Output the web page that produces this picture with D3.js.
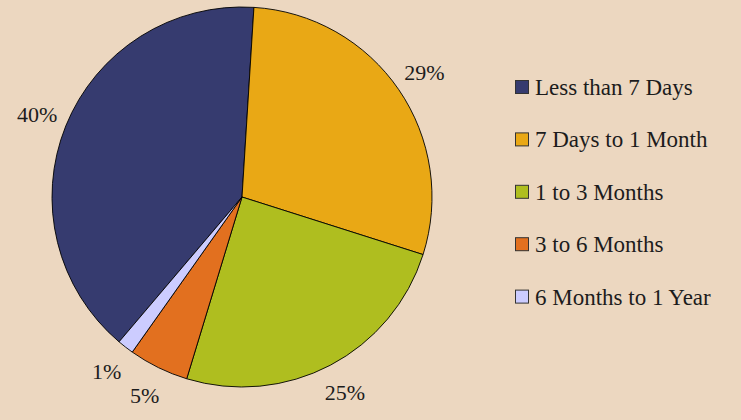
<!DOCTYPE html>
<html>
<head>
<meta charset="utf-8">
<script src="https://cdn.jsdelivr.net/npm/d3@7"></script>
<style>
	body{margin:0;background:#ecd7c0;}
	svg{display:block;}
</style>
</head>
<body>
<svg></svg>
<script>
// data
const categories=["Less than 7 Days","7 Days to 1 Month","1 to 3 Months","3 to 6 Months","6 Months to 1 Year"]
const values=[39.8,28.9,24.8,5.1,1.4]
const labels=["40%","29%","25%","5%","1%"]

const colors=["#363b6f","#e9a815","#afbe1f","#e2701f","#ccccff"]

const serif="'Liberation Serif', 'DejaVu Serif', serif"

const svg=d3.select("svg")
	.attr("width",741)
	.attr("height",420)

const radius=190
const pieGroup=svg.append("g")
	.attr("transform","translate(242,197)")

// first slice ends a little right of 12 o'clock
const total=d3.sum(values)
const endTop=3.6*Math.PI/180
const start=endTop-values[0]/total*2*Math.PI

const pieGenerator=d3.pie()
	.sort(null)
	.startAngle(start)
	.endAngle(start+2*Math.PI)

const arcData=pieGenerator(values)

const arcGenerator=d3.arc()
	.innerRadius(0)
	.outerRadius(radius)

pieGroup.selectAll("path")
	.data(arcData)
	.enter()
	.append("path")
	.attr("d",arcGenerator)
	.style("fill",(d,i)=>colors[i])
	.style("stroke","#000")
	.style("stroke-width",0.9)
	.style("stroke-linejoin","round")

// percent labels outside the pie
const labelArc=d3.arc()
	.innerRadius(221)
	.outerRadius(221)

pieGroup.selectAll("text")
	.data(arcData)
	.enter()
	.append("text")
	.attr("transform",d=>"translate("+labelArc.centroid(d)+")")
	.attr("text-anchor","middle")
	.attr("dy","0.35em")
	.attr("font-family",serif)
	.attr("font-size",22)
	.attr("fill","#1c1c1c")
	.text((d,i)=>labels[i])

// legend
const legend=svg.append("g")
	.attr("transform","translate(515,87)")

const rows=legend.selectAll("g")
	.data(categories)
	.enter()
	.append("g")
	.attr("transform",(d,i)=>"translate(0,"+(i*52.4)+")")

rows.append("rect")
	.attr("x",0.5)
	.attr("y",-6.5)
	.attr("width",13)
	.attr("height",13)
	.style("fill",(d,i)=>colors[i])
	.style("stroke","#333")
	.style("stroke-width",1)

rows.append("text")
	.attr("x",20)
	.attr("dy","0.35em")
	.attr("font-family",serif)
	.attr("font-size",23)
	.attr("fill","#1c1c1c")
	.text(d=>d)
</script>
</body>
</html>
